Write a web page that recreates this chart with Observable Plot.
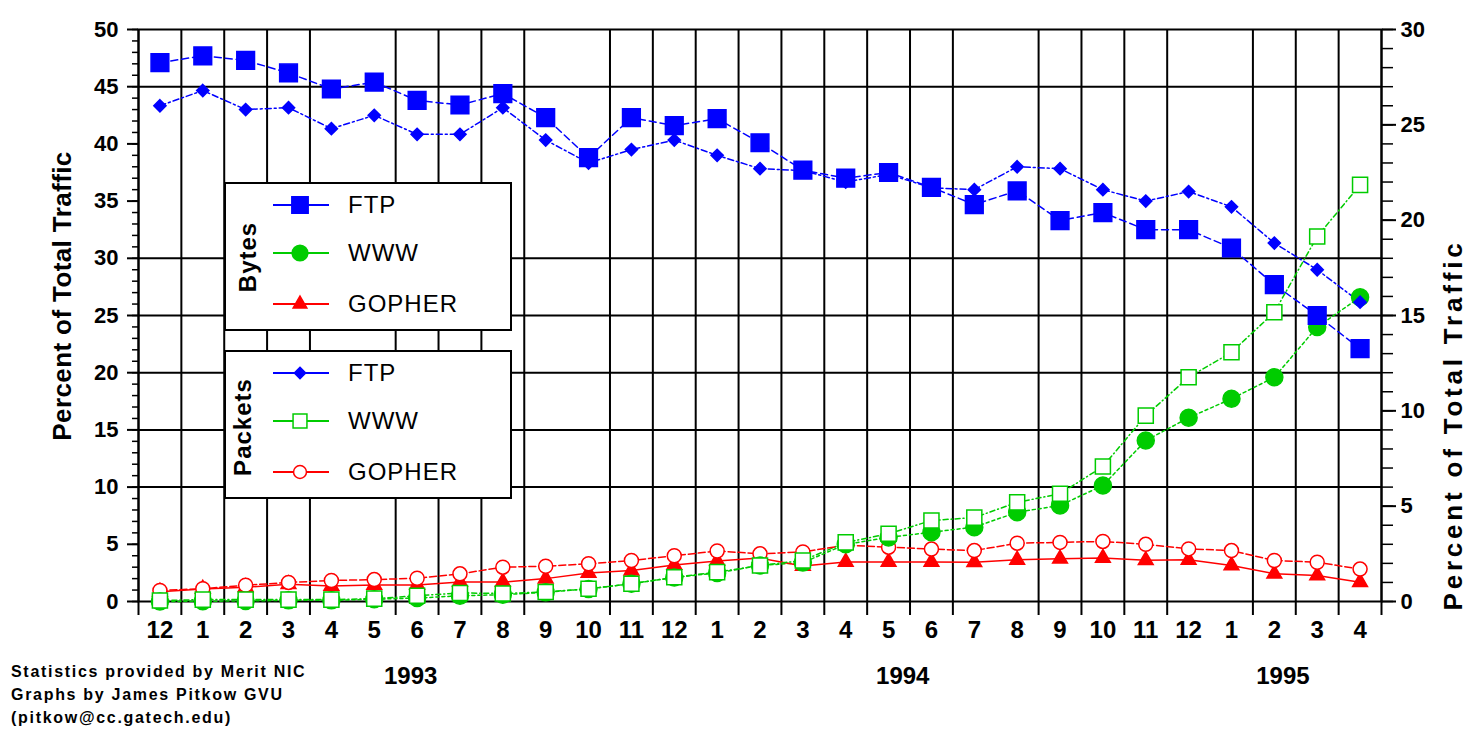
<!DOCTYPE html>
<html><head><meta charset="utf-8">
<script src="https://cdn.jsdelivr.net/npm/d3@7"></script>
<script src="https://cdn.jsdelivr.net/npm/@observablehq/plot@0.6"></script>
<style>
body{margin:0;background:#fff;}
#wrap{position:relative;width:1468px;height:734px;font-family:"Liberation Sans",Arial,sans-serif;color:#000;}
.lg{position:absolute;left:224px;width:284px;height:145px;border:2px solid #000;background:#fff;}
.row{position:absolute;left:0;height:30px;width:280px;}
.row svg{position:absolute;left:47px;top:0;}
.row span{position:absolute;left:122px;top:1px;font-size:24px;letter-spacing:1px;line-height:28px;}
.grp{position:absolute;font-size:24px;letter-spacing:1px;font-weight:bold;transform:translate(-50%,-50%) rotate(-90deg);white-space:nowrap;}
.ytitle{position:absolute;font-size:26px;line-height:1;font-weight:bold;transform:translate(-50%,-50%) rotate(-90deg);white-space:nowrap;}
#cap{position:absolute;left:11px;top:660px;font-size:16px;letter-spacing:1.7px;font-weight:bold;line-height:23px;white-space:nowrap;}
</style></head><body><div id="wrap"></div>
<script>
// month tick labels (Dec 1992 .. Apr 1995)
const months = ["12","1","2","3","4","5","6","7","8","9","10","11","12","1","2","3","4","5","6","7","8","9","10","11","12","1","2","3","4"];
const years = ["1993","1994","1995"];
const yearAt = [5.85, 17.33, 26.2];
// Bytes (left axis, percent)
const bytesFTP    = [47.1,47.7,47.3,46.2,44.8,45.4,43.8,43.4,44.4,42.3,38.8,42.3,41.6,42.2,40.1,37.7,37.0,37.5,36.2,34.7,35.9,33.3,34.0,32.5,32.5,30.9,27.7,25.0,22.1];
const bytesWWW    = [0.0,0.02,0.05,0.1,0.1,0.2,0.3,0.5,0.6,0.8,1.1,1.55,2.1,2.5,3.15,3.4,5.0,5.6,6.06,6.5,7.8,8.4,10.14,14.07,16.06,17.72,19.6,24.0,26.6];
const bytesGopher = [0.85,1.1,1.25,1.5,1.35,1.45,1.45,1.7,1.7,2.0,2.5,2.7,3.2,3.55,3.8,3.1,3.45,3.45,3.45,3.43,3.64,3.73,3.8,3.6,3.64,3.15,2.42,2.27,1.69];
// Packets (right axis, percent)
const packetsFTP    = [26.0,26.8,25.8,25.9,24.8,25.5,24.5,24.5,25.9,24.2,23.0,23.7,24.2,23.4,22.7,22.6,22.0,22.4,21.7,21.6,22.8,22.7,21.6,21.0,21.5,20.7,18.8,17.4,15.7];
const packetsWWW    = [0.05,0.1,0.1,0.1,0.1,0.15,0.3,0.45,0.42,0.5,0.67,0.93,1.27,1.54,1.89,2.15,3.1,3.55,4.25,4.4,5.2,5.65,7.08,9.75,11.76,13.07,15.17,19.14,21.85];
const packetsGopher = [0.58,0.67,0.85,1.0,1.1,1.15,1.22,1.45,1.8,1.85,1.98,2.15,2.4,2.65,2.5,2.6,2.95,2.85,2.75,2.67,3.06,3.1,3.15,3.0,2.76,2.67,2.15,2.06,1.7];
// axis ticks / grid
const leftTicks = d3.range(0, 51, 5);
const rightTicks = d3.range(0, 31, 5);
const gridLeft = [45, 30, 25, 20, 15, 10];
const gridMonths = [-0.5,0.5,1.5,2.5,3.5,5.5,6.5,7.5,8.5,10.5,11.5,12.5,13.5,14.5,15.5,16.5,17.5,18.5,20.5,21.5,22.5,23.5,25.5,26.5,27.5,28.5];

const BLUE = "#0000ff", GREEN = "#00cc00", RED = "#ff0000";
const N = months.length;
const idx = d3.range(N);
const K = 50 / 30; // right axis -> left axis units
const font = '"Liberation Sans", Arial, sans-serif';

const series = [
  {v: bytesFTP, k: 1, c: BLUE, dash: "7,4", sym: "square", r: 10, fill: BLUE},
  {v: bytesWWW, k: 1, c: GREEN, dash: "3,3", sym: "circle", r: 8.5, fill: GREEN},
  {v: bytesGopher, k: 1, c: RED, dash: null, sym: "triangle", r: 5.5, fill: RED},
  {v: packetsFTP, k: K, c: BLUE, dash: "6,3,2,3", sym: "diamond2", r: 5.5, fill: BLUE},
  {v: packetsWWW, k: K, c: GREEN, dash: "5,3,1,3", sym: "square", r: 8.5, fill: "#fff"},
  {v: packetsGopher, k: K, c: RED, dash: "7,3", sym: "circle", r: 7, fill: "#fff"}
];
const lineMarks = series.map(s => Plot.line(idx, {x: i => i, y: i => s.v[i] * s.k, stroke: s.c, strokeWidth: 1.5, strokeDasharray: s.dash}));
const dotOrder = [2, 5, 1, 4, 0, 3];
const dotMarks = dotOrder.map(j => { const s = series[j]; return Plot.dot(idx, {x: i => i, y: i => s.v[i] * s.k, symbol: s.sym, r: s.r, fill: s.fill, stroke: s.c, strokeWidth: 1.5}); });

const chart = Plot.plot({
  width: 1468, height: 734,
  marginLeft: 138, marginRight: 87, marginTop: 29, marginBottom: 133,
  x: {domain: [-0.5, N - 0.5], label: null},
  y: {domain: [0, 50], label: null},
  style: {fontFamily: font, fontSize: "22px", fontWeight: "bold", color: "#000", background: "#fff"},
  marks: [
    Plot.ruleX(gridMonths, {x: d => d, stroke: "#000", strokeWidth: 2, insetBottom: -14}),
    Plot.ruleY(gridLeft, {y: d => d, stroke: "#000", strokeWidth: 2}),
    Plot.frame({stroke: "#000", strokeWidth: 2}),
    Plot.axisY({anchor: "left", ticks: d3.range(0, 51), tickSize: 6, tickFormat: () => "", label: null, strokeWidth: 1.5}),
    Plot.axisY({anchor: "left", ticks: leftTicks, tickSize: 11, tickPadding: 9, label: null, strokeWidth: 2, fontSize: 22}),
    Plot.axisY({anchor: "right", ticks: d3.range(0, 31).map(v => v * K), tickSize: 11, tickFormat: () => "", label: null, strokeWidth: 1.5}),
    Plot.axisY({anchor: "right", ticks: rightTicks.map(v => v * K), tickSize: 14, tickPadding: 5, tickFormat: d => String(Math.round(d / K)), label: null, strokeWidth: 2, fontSize: 22}),
    Plot.axisX({ticks: idx, tickSize: 0, tickPadding: 19, tickFormat: i => months[i], label: null, fontSize: 24}),
    Plot.text(years, {x: (d, i) => yearAt[i], y: () => 0, text: d => d, dy: 75, fontSize: 24, fontWeight: "bold"}),
    ...lineMarks,
    ...dotMarks
  ]
});
const wrap = document.getElementById("wrap");
wrap.appendChild(chart);

// legend
function swatch(s) {
  const w = 56, h = 30, cx = 27, cy = 15;
  const svg = d3.create("svg").attr("width", w).attr("height", h);
  svg.append("line").attr("x1", 0).attr("x2", w).attr("y1", cy).attr("y2", cy).attr("stroke", s.c).attr("stroke-width", 2);
  const symMap = {square: d3.symbolSquare, circle: d3.symbolCircle, triangle: d3.symbolTriangle, diamond2: d3.symbolDiamond2};
  svg.append("path").attr("transform", `translate(${cx},${cy})`)
    .attr("d", d3.symbol(symMap[s.sym], Math.PI * s.r * s.r * 0.85)())
    .attr("fill", s.fill).attr("stroke", s.c).attr("stroke-width", 1.5);
  return svg.node();
}
const groups = [
  {title: "Bytes", top: 182, idx: [0, 1, 2], tx: 22, ty: 73},
  {title: "Packets", top: 350, idx: [3, 4, 5], tx: 17, ty: 75}
];
const names = ["FTP", "WWW", "GOPHER"];
const rowY = [6, 54, 105];
groups.forEach(g => {
  const box = document.createElement("div");
  box.className = "lg"; box.style.top = g.top + "px";
  const t = document.createElement("div");
  t.className = "grp"; t.textContent = g.title; t.style.left = g.tx + "px"; t.style.top = g.ty + "px";
  box.appendChild(t);
  g.idx.forEach((j, r) => {
    const row = document.createElement("div");
    row.className = "row"; row.style.top = rowY[r] + "px";
    row.appendChild(swatch(series[j]));
    const sp = document.createElement("span"); sp.textContent = names[r];
    row.appendChild(sp);
    box.appendChild(row);
  });
  wrap.appendChild(box);
});
// axis titles
[["Percent of Total Traffic", 62, 296, 0.4], ["Percent of Total Traffic", 1453, 425, 3.8]].forEach(([txt, x, y, ls]) => {
  const d = document.createElement("div");
  d.className = "ytitle"; d.textContent = txt; d.style.left = x + "px"; d.style.top = y + "px";
  d.style.letterSpacing = ls + "px";
  wrap.appendChild(d);
});
// caption
const cap = document.createElement("div");
cap.id = "cap";
cap.innerHTML = "Statistics provided by Merit NIC<br>Graphs by James Pitkow GVU<br>(pitkow@cc.gatech.edu)";
wrap.appendChild(cap);
</script>
</body></html>
